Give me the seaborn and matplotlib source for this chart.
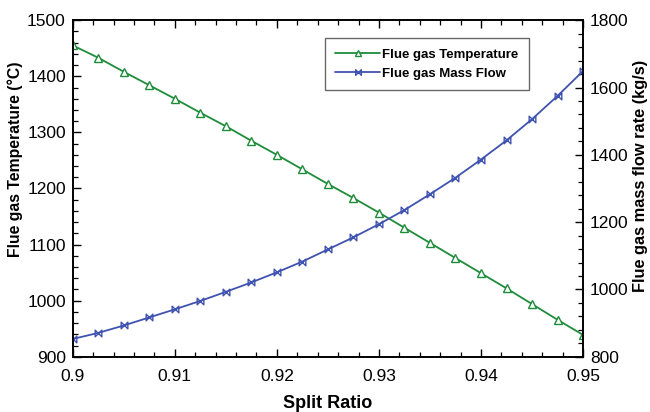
import numpy as np
import pandas as pd
import matplotlib
matplotlib.use("Agg")
import matplotlib.pyplot as plt
from matplotlib.ticker import MultipleLocator
from matplotlib.path import Path
import seaborn as sns

# Data
split_ratio = [0.9, 0.9025, 0.905, 0.9075, 0.91, 0.9125, 0.915, 0.9175, 0.92, 0.9225,
               0.925, 0.9275, 0.93, 0.9325, 0.935, 0.9375, 0.94, 0.9425, 0.945, 0.9475, 0.95]
flue_temp = [1455, 1433, 1408, 1384, 1360, 1335, 1311, 1285, 1260, 1234,
             1208, 1183, 1157, 1130, 1103, 1076, 1049, 1022, 994, 966, 939]
flue_mass = [853, 871, 893, 917, 941, 966, 993, 1021, 1051, 1083,
             1119, 1155, 1194, 1236, 1283, 1332, 1386, 1443, 1506, 1575, 1649]

df = pd.DataFrame({"split": split_ratio, "temp": flue_temp, "mass": flue_mass})

sns.set_style("ticks")
plt.rcParams["font.family"] = ["Liberation Sans", "DejaVu Sans"]
plt.rcParams["xtick.direction"] = "in"
plt.rcParams["ytick.direction"] = "in"
plt.rcParams["text.color"] = "black"
plt.rcParams["axes.labelcolor"] = "black"
plt.rcParams["xtick.color"] = "black"
plt.rcParams["ytick.color"] = "black"

green = "#1E8C3A"
blue = "#3F52B0"
# open "bowtie" marker: two vertical bars joined by crossing diagonals
bowtie = Path([(-1, 1), (-1, -1), (1, 1), (1, -1), (-1, 1)],
              [Path.MOVETO, Path.LINETO, Path.LINETO, Path.LINETO, Path.CLOSEPOLY])

fig = plt.figure(figsize=(6.5, 4.12), dpi=100)
ax = fig.add_axes([0.112, 0.134, 0.785, 0.817])
ax2 = ax.twinx()

sns.lineplot(data=df, x="split", y="temp", ax=ax, color=green, linewidth=1.3,
             marker="^", markersize=5.2, markerfacecolor="white",
             markeredgecolor=green, markeredgewidth=1.0,
             label="Flue gas Temperature", legend=False)
sns.lineplot(data=df, x="split", y="mass", ax=ax2, color=blue, linewidth=1.3,
             marker=bowtie, markersize=4.8, markerfacecolor="none",
             markeredgecolor=blue, markeredgewidth=1.0,
             label="Flue gas Mass Flow", legend=False)

ax.set_xlim(0.9, 0.95)
ax.set_ylim(900, 1500)
ax2.set_ylim(800, 1800)

ax.xaxis.set_major_locator(MultipleLocator(0.01))
ax.xaxis.set_minor_locator(MultipleLocator(0.002))
ax.yaxis.set_major_locator(MultipleLocator(100))
ax.yaxis.set_minor_locator(MultipleLocator(20))
ax2.yaxis.set_major_locator(MultipleLocator(200))
ax2.yaxis.set_minor_locator(MultipleLocator(40))
ax.set_xticks([0.9, 0.91, 0.92, 0.93, 0.94, 0.95])
ax.set_xticklabels(["0.9", "0.91", "0.92", "0.93", "0.94", "0.95"])

ax.tick_params(axis="x", which="both", top=True, bottom=True, labelsize=12.5, pad=9)
ax.tick_params(axis="y", which="both", left=True, right=False, labelsize=12.5, pad=5)
ax.tick_params(which="major", length=6, width=1.0, color="black")
ax.tick_params(which="minor", length=3.5, width=0.9, color="black")
ax2.tick_params(axis="y", which="both", right=True, left=False, labelsize=12.5, pad=5)
ax2.tick_params(which="major", length=6, width=1.0, color="black")
ax2.tick_params(which="minor", length=3.5, width=0.9, color="black")

for a in (ax, ax2):
    for s in a.spines.values():
        s.set_linewidth(1.2)
        s.set_color("black")

ax.set_xlabel("Split Ratio", fontsize=13, fontweight="bold", labelpad=8)
ax.set_ylabel("Flue gas Temperature (°C)", fontsize=11.3, fontweight="bold")
ax2.set_ylabel("Flue gas mass flow rate (kg/s)", fontsize=11.8, fontweight="bold")
ax.yaxis.set_label_coords(-0.098, 0.587)
ax2.yaxis.set_label_coords(1.098, 0.537)

h1, l1 = ax.get_legend_handles_labels()
h2, l2 = ax2.get_legend_handles_labels()
leg = ax2.legend(h1 + h2, l1 + l2, loc="upper left",
                 bbox_to_anchor=(0.494, 0.947), borderaxespad=0,
                 frameon=True, fancybox=False,
                 edgecolor="#444444", prop={"weight": "bold", "size": 9.5},
                 handlelength=3.4, handletextpad=0.15, borderpad=0.8,
                 labelspacing=0.5, markerscale=0.85)
leg.get_frame().set_linewidth(1.0)

fig.savefig("out.png", dpi=100)
